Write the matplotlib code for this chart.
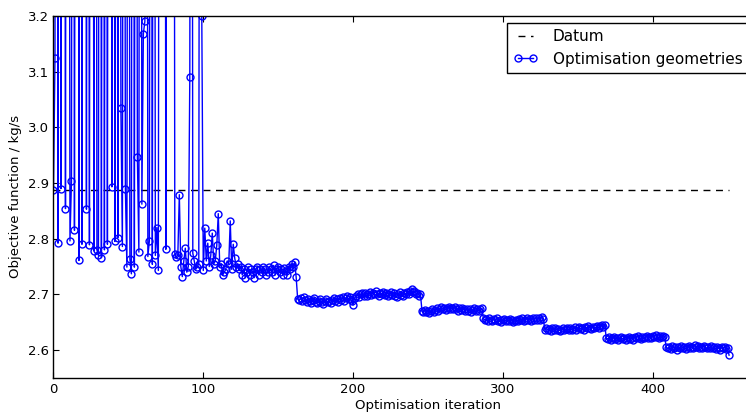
import matplotlib
matplotlib.use('Agg')
import matplotlib.pyplot as plt
import numpy as np

# datum value of the objective function (kg/s)
datum = 2.887

# early phase, lots of failed / very high geometries (off the top of the plot)
early = [2.888, 3.125, 5.2, 2.792, 4.8, 2.89, 4.6, 5.0, 2.854, 5.3,
         4.9, 2.796, 2.903, 5.1, 2.815, 4.7, 5.4, 2.761, 5.0, 2.79,
         5.6, 5.2, 2.853, 4.9, 2.789, 5.3, 4.7, 2.778, 5.1, 2.78,
         2.770, 5.4, 2.766, 5.0, 2.780, 4.8, 2.79, 5.2, 4.9, 2.893,
         5.1, 2.795, 4.7, 2.802, 5.3, 3.035, 2.786, 5.0, 2.890, 2.749,
         4.8, 2.764, 2.737, 5.2, 2.749, 4.9, 2.947, 2.776, 5.5, 2.862,
         3.168, 3.190, 5.1, 2.768, 2.796, 4.8, 2.754, 5.3, 2.770, 2.820,
         2.743, 5.0, 5.4, 4.9, 5.2, 2.781, 4.8, 5.3, 5.0, 4.7,
         5.1, 2.772, 2.768, 2.770, 2.879, 2.750, 2.732, 2.760, 2.783, 2.740,
         2.750, 3.090, 5.2, 2.774, 2.760, 2.745, 2.750, 2.755, 5.0, 3.199]

# settling around 2.74
settle = [2.743, 2.819, 2.760, 2.792, 2.750, 2.770, 2.810, 2.755, 2.760, 2.788,
          2.845, 2.750, 2.755, 2.735, 2.740, 2.745, 2.760, 2.755, 2.832, 2.745,
          2.790, 2.765, 2.750, 2.755, 2.745, 2.750, 2.735, 2.745, 2.730, 2.740,
          2.750, 2.735, 2.745, 2.740, 2.730, 2.745, 2.750, 2.735, 2.745, 2.740,
          2.750, 2.745, 2.735, 2.740, 2.750, 2.745, 2.740, 2.752, 2.735, 2.745,
          2.750, 2.740, 2.745, 2.735, 2.748, 2.742, 2.735, 2.750, 2.745, 2.755,
          2.750, 2.758, 2.731]

step1 = [2.692, 2.690, 2.693, 2.688, 2.695, 2.690, 2.686, 2.692, 2.688, 2.685,
         2.690, 2.694, 2.687, 2.684, 2.689, 2.692, 2.686, 2.683, 2.688, 2.691,
         2.686, 2.689, 2.685, 2.690, 2.693, 2.688, 2.691, 2.686, 2.694, 2.690,
         2.696, 2.689, 2.693, 2.697, 2.691, 2.695, 2.688, 2.681, 2.693, 2.698,
         2.701, 2.696, 2.700, 2.703, 2.698, 2.702, 2.697, 2.701, 2.704, 2.699,
         2.703, 2.700, 2.706, 2.701, 2.698, 2.703, 2.700, 2.705, 2.699, 2.702,
         2.697, 2.701, 2.704, 2.699, 2.703, 2.698, 2.695, 2.700, 2.704, 2.699,
         2.697, 2.702, 2.700, 2.705, 2.701, 2.707, 2.709, 2.704, 2.706, 2.701,
         2.703, 2.698, 2.700]

step2 = [2.670, 2.668, 2.672, 2.669, 2.671, 2.667, 2.670, 2.673, 2.669, 2.672,
         2.675, 2.671, 2.674, 2.677, 2.673, 2.676, 2.672, 2.675, 2.678, 2.674,
         2.676, 2.673, 2.677, 2.674, 2.671, 2.675, 2.672, 2.676, 2.673, 2.670,
         2.674, 2.671, 2.673, 2.669, 2.672, 2.675, 2.671, 2.674, 2.670, 2.673,
         2.675]

step3 = [2.657, 2.654, 2.656, 2.653, 2.658, 2.655, 2.652, 2.656, 2.654, 2.657,
         2.653, 2.655, 2.651, 2.654, 2.656, 2.653, 2.655, 2.652, 2.656, 2.654,
         2.650, 2.653, 2.655, 2.652, 2.656, 2.654, 2.657, 2.653, 2.655, 2.658,
         2.654, 2.656, 2.653, 2.657, 2.655, 2.658, 2.654, 2.657, 2.655, 2.659,
         2.656]

step4 = [2.637, 2.639, 2.636, 2.638, 2.635, 2.639, 2.637, 2.640, 2.636, 2.638,
         2.635, 2.637, 2.639, 2.636, 2.638, 2.640, 2.637, 2.639, 2.636, 2.638,
         2.641, 2.637, 2.639, 2.642, 2.638, 2.640, 2.637, 2.641, 2.639, 2.643,
         2.640, 2.638, 2.642, 2.639, 2.641, 2.644, 2.640, 2.643, 2.645, 2.642,
         2.646]

step5 = [2.622, 2.620, 2.623, 2.619, 2.621, 2.624, 2.620, 2.622, 2.618, 2.621,
         2.623, 2.620, 2.622, 2.619, 2.621, 2.624, 2.620, 2.622, 2.619, 2.623,
         2.621, 2.625, 2.622, 2.620, 2.624, 2.621, 2.623, 2.626, 2.622, 2.624,
         2.621, 2.625, 2.623, 2.627, 2.624, 2.622, 2.625, 2.623, 2.626, 2.624]

step6 = [2.606, 2.603, 2.605, 2.602, 2.607, 2.604, 2.606, 2.601, 2.605, 2.603,
         2.608, 2.604, 2.606, 2.602, 2.605, 2.607, 2.603, 2.606, 2.604, 2.609,
         2.605, 2.607, 2.603, 2.606, 2.604, 2.608, 2.605, 2.603, 2.606, 2.604,
         2.607, 2.603, 2.605, 2.602, 2.606, 2.604, 2.601, 2.605, 2.603, 2.606,
         2.602, 2.604, 2.591]

# join all phases, one value per iteration
objective = np.concatenate([early, settle, step1, step2, step3, step4, step5, step6])
iterations = np.arange(len(objective))

fig = plt.figure(figsize=(7.46, 4.13), dpi=100)
# axes run past the right edge of the figure, as in the original
ax = fig.add_axes([0.0717, 0.0847, 1.004, 0.877])

ax.plot(iterations, np.full(len(iterations), datum), color='k',
        linestyle=(0, (5, 4)), linewidth=1, label='Datum')
ax.plot(iterations, objective, color='b', linewidth=1, marker='o',
        markersize=5, markerfacecolor='none', markeredgecolor='b',
        markeredgewidth=1, label='Optimisation geometries')

ax.set_xlim(0, 500)
ax.set_ylim(2.55, 3.2)
ax.set_xticks([0, 100, 200, 300, 400])
ax.set_yticks([2.6, 2.7, 2.8, 2.9, 3.0, 3.1, 3.2])
ax.tick_params(direction='in', top=True, right=True, labelsize=9.5, length=4)
for s in ax.spines.values():
    s.set_linewidth(1)

ax.set_xlabel('Optimisation iteration', fontsize=9.5, labelpad=2)
ax.set_ylabel('Objective function / kg/s', fontsize=9.5)

leg = ax.legend(loc='upper left', bbox_to_anchor=(507 / 746, 1 - 23 / 413),
                bbox_transform=fig.transFigure, borderaxespad=0, fontsize=11,
                numpoints=2, handlelength=1.6, handletextpad=1.0,
                fancybox=False, framealpha=1)
leg.get_frame().set_edgecolor('k')
leg.get_frame().set_linewidth(1)

fig.savefig('out.png', dpi=100)
